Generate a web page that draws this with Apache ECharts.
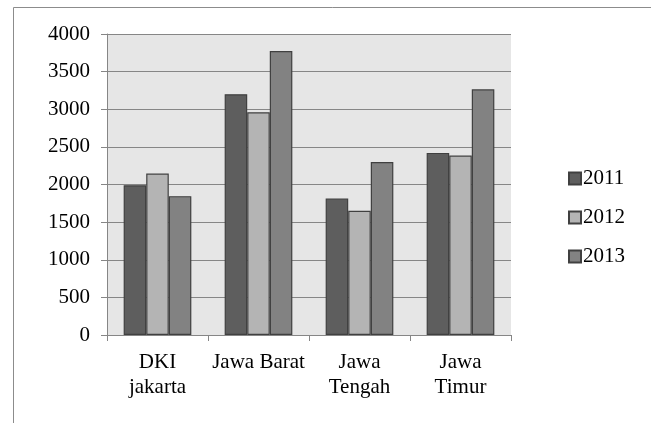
<!DOCTYPE html>
<html>
<head>
<meta charset="utf-8">
<script src="https://cdn.jsdelivr.net/npm/echarts@6/dist/echarts.min.js"></script>
<style>
  html, body { margin: 0; padding: 0; background: #ffffff; }
  #chart { width: 651px; height: 423px; }
</style>
</head>
<body>
<div id="chart"></div>
<script>
// Provinces on the category axis
const categories = ['DKI\njakarta', 'Jawa Barat', 'Jawa\nTengah', 'Jawa\nTimur'];
// Yearly values per province
const values2011 = [1990, 3200, 1815, 2420];
const values2012 = [2145, 2960, 1650, 2385];
const values2013 = [1845, 3775, 2300, 3265];
const seriesNames = ['2011', '2012', '2013'];
const yTicks = { min: 0, max: 4000, interval: 500 };

const FONT = '"Liberation Serif", "Times New Roman", serif';
const fills = ['#5e5e5e', '#b4b4b4', '#828282'];
const dataSets = [values2011, values2012, values2013];

const chart = echarts.init(document.getElementById('chart'), null, { renderer: 'canvas' });

chart.setOption({
  backgroundColor: '#ffffff',
  animation: false,
  textStyle: { fontFamily: FONT, color: '#000000' },
  graphic: [{
    type: 'rect',
    shape: { x: 13.5, y: 7.5, width: 700, height: 500 },
    style: { fill: 'none', stroke: '#8c8c8c', lineWidth: 1 },
    silent: true,
    z: -1
  }],
  grid: {
    left: 107, top: 34, right: 140, bottom: 88,
    show: true, backgroundColor: '#e6e6e6', borderWidth: 0
  },
  legend: {
    orient: 'vertical',
    left: 568, top: 168,
    padding: 0,
    itemWidth: 12, itemHeight: 12, itemGap: 18,
    icon: 'rect',
    textStyle: { fontFamily: FONT, fontSize: 21, color: '#000000', padding: [0, 0, 0, -3] },
    data: seriesNames
  },
  xAxis: {
    type: 'category',
    data: categories,
    axisLine: { lineStyle: { color: '#868686', width: 1 } },
    axisTick: { show: true, length: 6, lineStyle: { color: '#868686' } },
    axisLabel: { fontFamily: FONT, fontSize: 21, color: '#000000', margin: 15, lineHeight: 25, interval: 0 },
    splitLine: { show: false }
  },
  yAxis: {
    type: 'value',
    min: yTicks.min, max: yTicks.max, interval: yTicks.interval,
    axisLine: { show: true, lineStyle: { color: '#868686', width: 1 } },
    axisTick: { show: true, length: 6, lineStyle: { color: '#868686' } },
    axisLabel: { fontFamily: FONT, fontSize: 21, color: '#000000', margin: 17, formatter: v => String(v) },
    splitLine: { show: true, lineStyle: { color: '#868686', width: 1.2 } }
  },
  series: seriesNames.map((name, i) => ({
    name: name,
    type: 'bar',
    data: dataSets[i],
    barGap: '0%',
    barCategoryGap: '33%',
    itemStyle: { color: fills[i], borderColor: '#404040', borderWidth: 1.2 }
  }))
});
</script>
</body>
</html>
